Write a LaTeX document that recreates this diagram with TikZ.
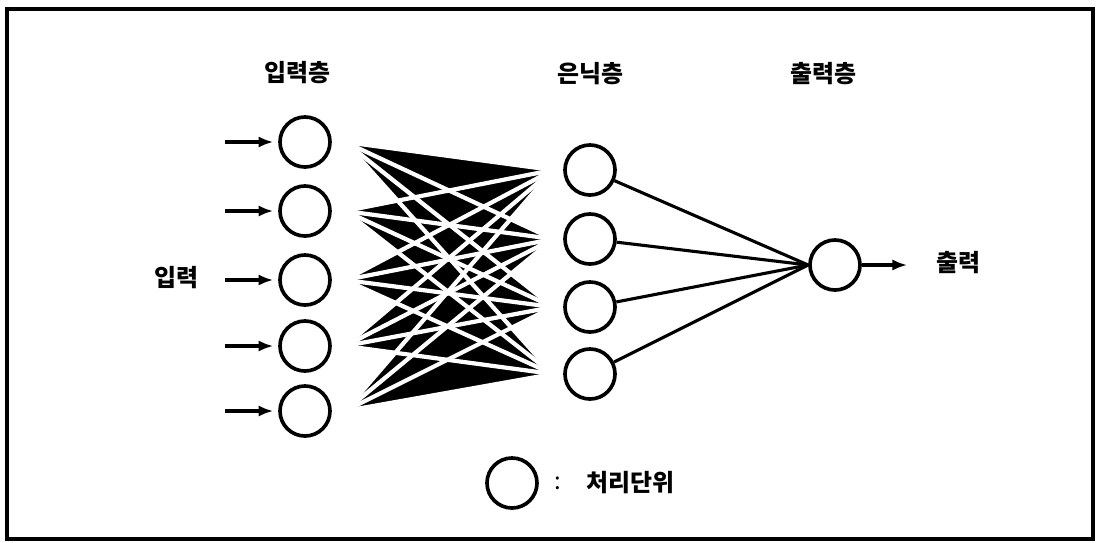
\documentclass[tikz,border=0pt]{standalone}
\usepackage{fontspec}
\newfontfamily\krfont{Noto Sans CJK KR}
\usetikzlibrary{arrows.meta,positioning,calc}

\begin{document}
\begin{tikzpicture}[
  x=0.025cm,y=-0.025cm,
  unit/.style={
    draw,
    circle,
    line width=2.6pt,
    minimum size=1.25cm,
    inner sep=0pt
  },
  layertext/.style={font=\krfont\bfseries\fontsize{17}{20}\selectfont,inner sep=1pt},
  arrow/.style={-{Latex[length=3.7mm,width=2.8mm]},line width=2.4pt,shorten >=0.12cm},
  link/.style={line width=2.2pt},
  gap/.style={white,line width=3pt}
]
  \useasboundingbox (0,0) rectangle (1097,542);
  \draw[line width=2.4pt] (7,9) rectangle (1093,539);

  % layer titles
  \node[layertext] (inlayer) at (297,73) {입력층};
  \node[layertext] (hidlayer) at (590,74) {은닉층};
  \node[layertext] (outlayer) at (823,74) {출력층};

  % input layer
  \foreach \y [count=\i] in {142,211,280,346,411} {
    \node[unit] (in\i) at (305,\y) {};
    \coordinate (src\i) at (225,\y);
    \coordinate (a\i) at (345,\y);
    \draw[arrow] (src\i) -- (in\i);
  }
  \node[layertext] (inlabel) at (176,278) {입력};

  % hidden layer
  \foreach \y [count=\j] in {170,239,307,374} {
    \node[unit] (hid\j) at (590,\y) {};
    \coordinate (b\j) at (553,\y);
  }

  % input -> hidden (dense fan, as scanned)
  \begin{scope}
    \clip \foreach \j in {1,...,4} {(b\j) -- (a1) -- (a2) -- (a3) -- (a4) -- (a5) -- cycle};
    \fill \foreach \i in {1,...,5} {(a\i) -- (b1) -- (b2) -- (b3) -- (b4) -- cycle};
  \end{scope}
  \foreach \i in {1,...,5}
    \foreach \j in {1,...,4}
      \draw[gap] (a\i) -- (b\j);

  % output layer
  \node[unit] (out) at (835,265) {};
  \coordinate (res) at (912,265);
  \foreach \j in {1,...,4}
    \draw[link] (hid\j) -- (out.west);
  \draw[arrow] (out) -- (res);
  \node[layertext] (outlabel) at (958,263) {출력};

  % legend
  \node[unit] (key) at (512,483) {};
  \node[layertext,font=\krfont\fontsize{17}{20}\selectfont] (colon) at (558,483) {:};
  \node[layertext,right=1.15cm of key] (keytext) {처리단위};
\end{tikzpicture}
\end{document}
